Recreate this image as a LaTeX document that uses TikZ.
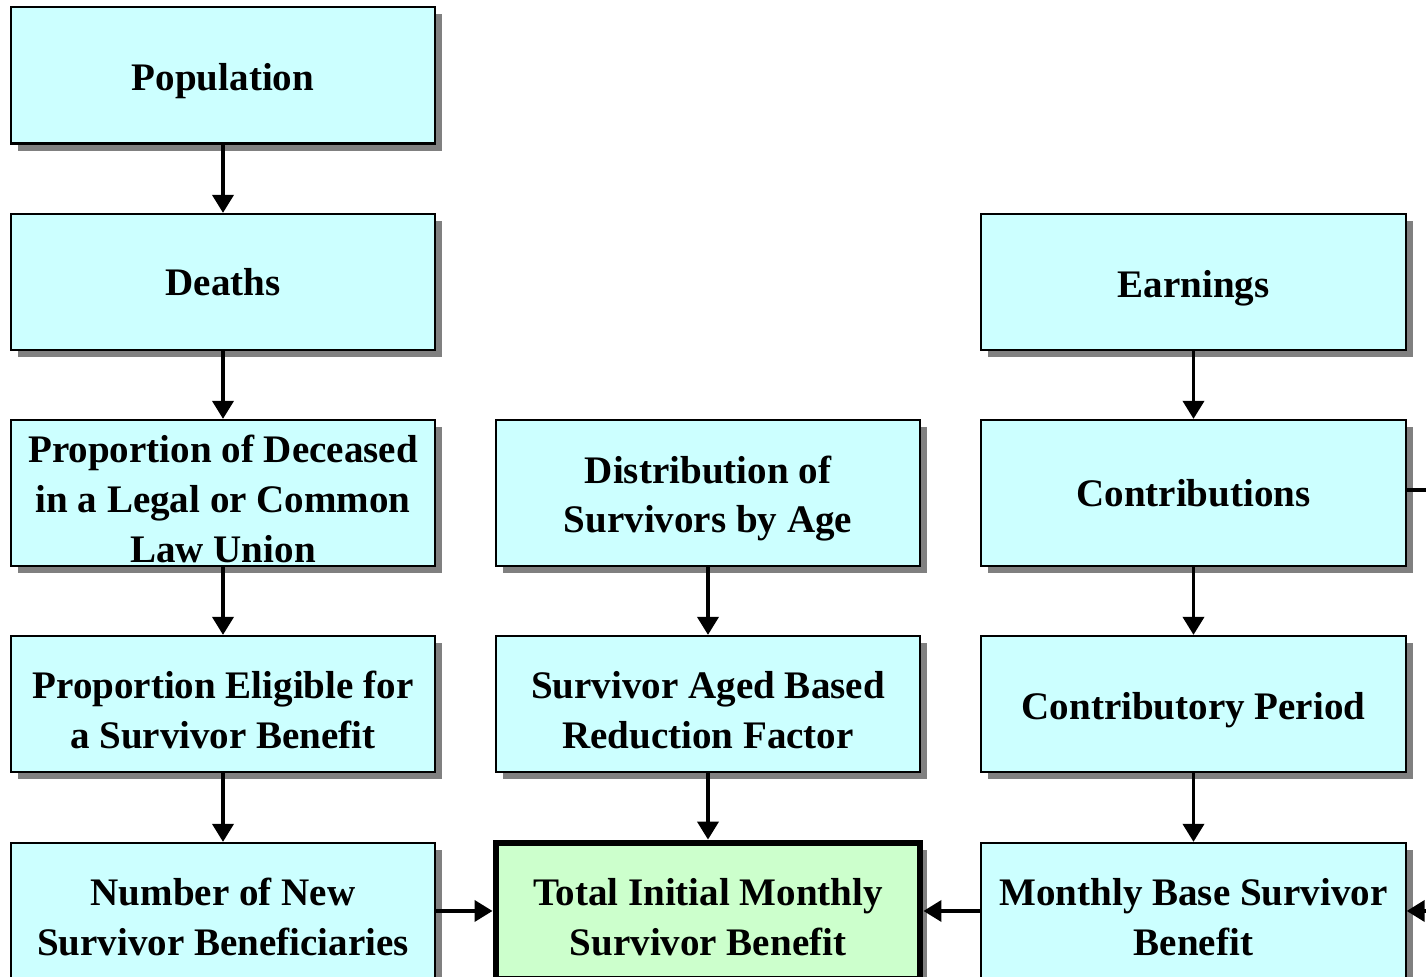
\documentclass[tikz,border=0pt]{standalone}
\usepackage{fontspec}
\setmainfont{Liberation Serif}
\usetikzlibrary{arrows.meta,shadows,positioning}
\definecolor{boxcyan}{HTML}{CCFFFF}
\definecolor{boxgreen}{HTML}{CCFFCC}
\definecolor{shadowgray}{HTML}{808080}
\newcommand{\tallline}{\rule{0pt}{11pt}}
\tikzset{
  flowbox/.style={draw=black, line width=0.6pt, fill=boxcyan, align=center,
    minimum width=4.24cm, minimum height=1.36cm, inner sep=0pt,
    font=\fontsize{11.1}{14.2}\selectfont\bfseries,
    drop shadow={shadow xshift=0.07cm, shadow yshift=-0.07cm, fill=shadowgray, opacity=1}},
  totalbox/.style={flowbox, fill=boxgreen, line width=1.9pt},
  flowarrow/.style={line width=1.05pt, -{Triangle[length=0.18cm, width=0.21cm]}}
}
\begin{document}
\begin{tikzpicture}[x=0.01cm, y=-0.01cm]
    \useasboundingbox (0,0) rectangle (1426,977);
    \clip (0,0) rectangle (1426,977);
    % left column
    \node[flowbox] (population) at (223,75.5) {\tallline Population};
    \node[flowbox] (deaths) at (223,282) {Deaths};
    \node[flowbox, minimum height=1.46cm] (union) at (223,493) {\tallline Proportion of Deceased\\in a Legal or Common\\Law Union};
    \node[flowbox] (eligible) at (223,704) {\tallline Proportion Eligible for\\a Survivor Benefit};
    \node[flowbox] (newbenef) at (223,911) {\tallline Number of New\\Survivor Beneficiaries};
    % middle column
    \node[flowbox, minimum height=1.46cm] (distrib) at (708,493) {\tallline Distribution of\\Survivors by Age};
    \node[flowbox] (reduction) at (708,704) {\tallline Survivor Aged Based\\Reduction Factor};
    \node[totalbox] (total) at (708,911) {\tallline Total Initial Monthly\\Survivor Benefit};
    % right column
    \node[flowbox] (earnings) at (1193.5,282) {\tallline Earnings};
    \node[flowbox, minimum height=1.46cm] (contrib) at (1193.5,493) {Contributions};
    \node[flowbox] (period) at (1193.5,704) {\tallline Contributory Period};
    \node[flowbox] (monthly) at (1193.5,911) {\tallline Monthly Base Survivor\\Benefit};
    % off-picture ends
    \coordinate (contribout) at (1500,490);
    \coordinate (monthlyin) at (1500,911);
    % connectors
    \draw[flowarrow] (population) -- (deaths);
    \draw[flowarrow] (deaths) -- (union);
    \draw[flowarrow] (union) -- (eligible);
    \draw[flowarrow] (eligible) -- (newbenef);
    \draw[flowarrow] (distrib) -- (reduction);
    \draw[flowarrow] (reduction) -- (total);
    \draw[flowarrow] (earnings) -- (contrib);
    \draw[flowarrow] (contrib) -- (period);
    \draw[flowarrow] (period) -- (monthly);
    \draw[flowarrow] (newbenef) -- (total);
    \draw[flowarrow] (monthly) -- (total);
    \draw[line width=1.05pt] (contrib.east |- contribout) -- (contribout);
    \draw[flowarrow] (monthlyin) -- (monthly.east);
\end{tikzpicture}
\end{document}
